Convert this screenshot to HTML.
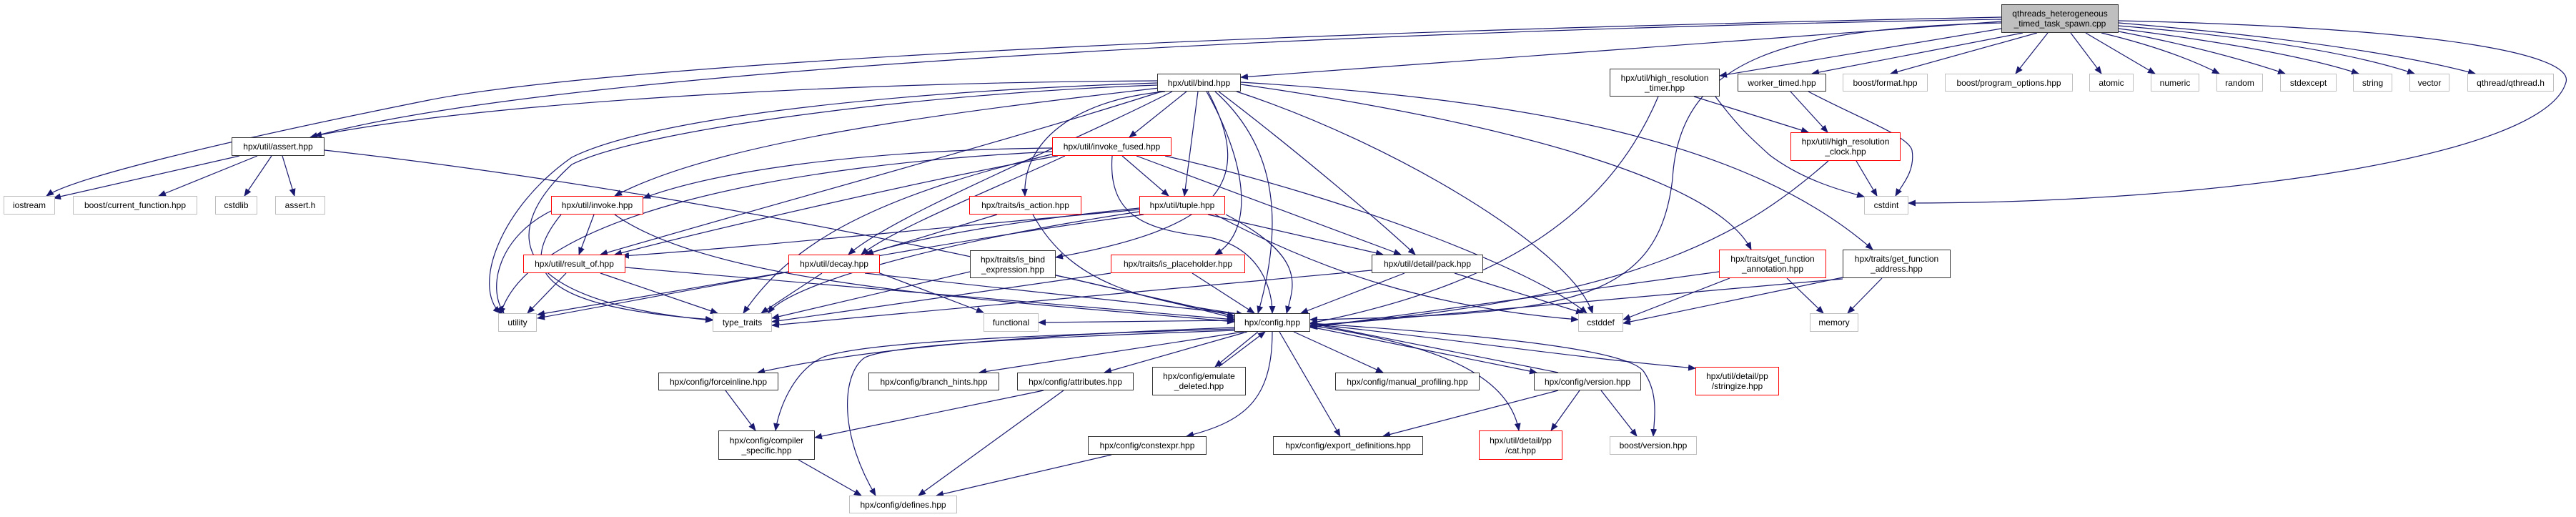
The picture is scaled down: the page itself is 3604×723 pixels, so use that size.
<!DOCTYPE html>
<html><head><meta charset="utf-8"><style>
body{margin:0;background:#fff;width:3604px;height:723px;overflow:hidden;position:relative;font-family:"Liberation Sans",sans-serif}
.n{position:absolute;box-sizing:border-box;border:1px solid #bfbfbf;background:#fff;font-size:12px;line-height:14px;color:#000;display:flex;align-items:center;justify-content:center;text-align:center;white-space:nowrap}
.b{border:1.5px solid #333}
.r{border:1.5px solid #ff0000}
.g{background:#bfbfbf;border:1.5px solid #333}
svg{position:absolute;left:0;top:0}
</style></head><body>
<svg width="3604" height="723" viewBox="0 0 3604 723">
<defs><marker id="a" markerUnits="userSpaceOnUse" markerWidth="11" markerHeight="9" refX="10" refY="4.5" orient="auto"><path d="M0,0 L11,4.5 L0,9 z" fill="#191970"/></marker></defs>
<g fill="none" stroke="#191970" stroke-width="1.2" marker-end="url(#a)">
<path d="M2850,46 L2645,103"/>
<path d="M2865,46 L2820,103"/>
<path d="M2897,46 L2940,103"/>
<path d="M2918,46 L3015,103"/>
<path d="M2940,46 Q3040,70 3105,103"/>
<path d="M2964,44 Q3100,70 3197,103"/>
<path d="M2964,40 Q3200,70 3300,103"/>
<path d="M2964,36 Q3250,60 3378,103"/>
<path d="M2964,32 Q3300,60 3463,103"/>
<path d="M2964,29 C3450,40 3600,80 3590,115 C3560,220 3100,284 2670,284"/>
<path d="M2830,46 L2535,103"/>
<path d="M2800,40 L2406,106"/>
<path d="M2800,30 L1736,108"/>
<path d="M2800,27 C2000,40 800,90 434,192"/>
<path d="M2800,24 C1500,50 800,100 600,140 C300,200 100,250 65,274"/>
<path d="M2800,32 C2500,40 2350,80 2340,250 C2320,420 2200,440 1833,447"/>
<path d="M1619,113 C1200,115 700,140 440,190"/>
<path d="M1619,116 C1200,130 900,170 800,220 C700,290 660,400 700,438"/>
<path d="M1619,119 C1300,130 900,180 800,230 C700,320 700,420 997,448"/>
<path d="M1622,123 C1300,160 1000,200 860,274"/>
<path d="M1625,128 C1400,200 1100,280 840,356"/>
<path d="M1640,128 C1500,200 1250,300 1187,356"/>
<path d="M1660,128 L1580,192"/>
<path d="M1630,128 C1500,140 1430,200 1434,274"/>
<path d="M1676,128 L1657,274"/>
<path d="M1688,128 C1740,220 1760,320 1700,356"/>
<path d="M1705,128 C1800,200 1920,300 1980,356"/>
<path d="M1700,128 C1780,200 1800,300 1760,438"/>
<path d="M1730,128 C1950,200 2200,350 2228,438"/>
<path d="M1736,118 C2100,170 2400,250 2450,349"/>
<path d="M1736,115 C2150,140 2450,200 2620,349"/>
<path d="M1690,128 C1760,260 1700,320 1477,360"/>
<path d="M335,218 L75,277"/>
<path d="M360,218 L222,274"/>
<path d="M380,218 L342,274"/>
<path d="M395,218 L412,274"/>
<path d="M454,210 C900,260 1400,360 1727,445"/>
<path d="M1472,207 C1200,210 1000,240 900,277"/>
<path d="M1480,218 C1300,250 1000,320 860,356"/>
<path d="M1490,218 C1400,260 1250,320 1205,356"/>
<path d="M1570,218 L1635,274"/>
<path d="M1590,218 L1960,356"/>
<path d="M1556,218 C1550,300 1600,320 1680,330 C1760,340 1780,400 1780,438"/>
<path d="M1630,218 C1900,280 2150,380 2220,438"/>
<path d="M1472,212 C1100,230 740,300 700,440"/>
<path d="M1475,215 C1200,280 1100,350 1040,438"/>
<path d="M831,300 L810,356"/>
<path d="M771,295 C700,330 680,400 705,438"/>
<path d="M785,300 C720,380 760,430 997,447"/>
<path d="M860,300 C1000,400 1400,420 1727,450"/>
<path d="M792,382 L738,438"/>
<path d="M840,382 L1004,438"/>
<path d="M875,374 L1727,447"/>
<path d="M1150,382 L1065,438"/>
<path d="M1103,380 L752,440"/>
<path d="M1210,382 L1740,440"/>
<path d="M1223,379 L1376,437"/>
<path d="M1395,300 L1210,356"/>
<path d="M1445,300 C1500,400 1600,420 1740,440"/>
<path d="M1594,291 C1400,310 1250,340 1212,356"/>
<path d="M1594,293 C1300,320 1000,350 870,358"/>
<path d="M1594,296 C1300,340 1100,400 1075,438"/>
<path d="M1600,300 C1300,340 1000,400 752,445"/>
<path d="M1690,300 L1935,356"/>
<path d="M1700,300 C1850,380 2000,430 2208,447"/>
<path d="M1715,300 C1830,360 1810,400 1800,438"/>
<path d="M1357,380 L1080,445"/>
<path d="M1477,385 L1727,442"/>
<path d="M1554,382 L1080,450"/>
<path d="M1668,382 L1755,438"/>
<path d="M1919,378 L1080,455"/>
<path d="M1965,382 L1820,438"/>
<path d="M2035,382 L2215,438"/>
<path d="M1727,448 L1453,451"/>
<path d="M1727,458 C1400,470 1200,490 1060,521"/>
<path d="M1727,460 C1400,470 1200,480 1150,500 C1110,520 1090,570 1085,602"/>
<path d="M1727,462 C1500,470 1250,480 1210,500 C1180,520 1170,600 1225,693"/>
<path d="M1740,464 L1370,521"/>
<path d="M1745,464 L1545,521"/>
<path d="M1760,464 L1700,513"/>
<path d="M1705,513 L1770,464"/>
<path d="M1780,464 C1780,560 1740,590 1660,610"/>
<path d="M1790,464 L1875,610"/>
<path d="M1810,464 L1935,521"/>
<path d="M1833,457 L2150,521"/>
<path d="M2180,521 L1833,452"/>
<path d="M1833,455 C2000,480 2110,520 2125,602"/>
<path d="M1833,453 C2000,470 2200,500 2372,515"/>
<path d="M1833,452 C2100,470 2280,490 2300,520 C2320,550 2315,580 2313,610"/>
<path d="M2210,546 L2170,602"/>
<path d="M2180,546 L1935,610"/>
<path d="M2240,546 L2290,610"/>
<path d="M1460,546 L1140,612"/>
<path d="M1488,546 L1285,693"/>
<path d="M1015,546 L1057,602"/>
<path d="M1117,643 L1205,693"/>
<path d="M1555,636 L1310,693"/>
<path d="M2370,135 L2530,185"/>
<path d="M2400,135 C2430,175 2446,190 2476,217 C2520,250 2570,265 2608,275"/>
<path d="M2320,135 C2250,300 2100,400 1833,452"/>
<path d="M2505,128 L2557,185"/>
<path d="M2530,128 C2600,165 2670,190 2675,210 C2680,240 2660,260 2652,274"/>
<path d="M2597,225 L2626,274"/>
<path d="M2558,225 C2450,320 2300,420 1833,455"/>
<path d="M2500,389 L2551,438"/>
<path d="M2420,389 L2271,447"/>
<path d="M2405,380 L1833,458"/>
<path d="M2633,389 L2585,438"/>
<path d="M2578,390 L1833,456"/>
<path d="M2578,388 L2271,452"/>
</g>
</svg>
<div class="n g" style="left:2800px;top:6px;width:164px;height:40px">qthreads_heterogeneous<br>_timed_task_spawn.cpp</div>
<div class="n b" style="left:324px;top:192px;width:130px;height:26px">hpx/util/assert.hpp</div>
<div class="n" style="left:5px;top:274px;width:72px;height:26px">iostream</div>
<div class="n" style="left:102px;top:274px;width:174px;height:26px">boost/current_function.hpp</div>
<div class="n" style="left:301px;top:274px;width:59px;height:26px">cstdlib</div>
<div class="n" style="left:385px;top:274px;width:70px;height:26px">assert.h</div>
<div class="n r" style="left:771px;top:274px;width:129px;height:26px">hpx/util/invoke.hpp</div>
<div class="n r" style="left:732px;top:356px;width:143px;height:26px">hpx/util/result_of.hpp</div>
<div class="n r" style="left:1103px;top:356px;width:128px;height:26px">hpx/util/decay.hpp</div>
<div class="n" style="left:697px;top:438px;width:54px;height:26px">utility</div>
<div class="n" style="left:997px;top:438px;width:83px;height:26px">type_traits</div>
<div class="n b" style="left:921px;top:521px;width:168px;height:25px">hpx/config/forceinline.hpp</div>
<div class="n b" style="left:1005px;top:602px;width:135px;height:41px">hpx/config/compiler<br>_specific.hpp</div>
<div class="n" style="left:1188px;top:693px;width:151px;height:25px">hpx/config/defines.hpp</div>
<div class="n b" style="left:1619px;top:103px;width:117px;height:25px">hpx/util/bind.hpp</div>
<div class="n b" style="left:2252px;top:96px;width:154px;height:39px">hpx/util/high_resolution<br>_timer.hpp</div>
<div class="n r" style="left:1472px;top:192px;width:167px;height:26px">hpx/util/invoke_fused.hpp</div>
<div class="n r" style="left:1356px;top:274px;width:157px;height:26px">hpx/traits/is_action.hpp</div>
<div class="n r" style="left:1594px;top:274px;width:120px;height:26px">hpx/util/tuple.hpp</div>
<div class="n b" style="left:1357px;top:350px;width:120px;height:39px">hpx/traits/is_bind<br>_expression.hpp</div>
<div class="n r" style="left:1554px;top:356px;width:188px;height:26px">hpx/traits/is_placeholder.hpp</div>
<div class="n b" style="left:1919px;top:356px;width:156px;height:26px">hpx/util/detail/pack.hpp</div>
<div class="n" style="left:1376px;top:438px;width:77px;height:26px">functional</div>
<div class="n b" style="left:1727px;top:438px;width:106px;height:26px">hpx/config.hpp</div>
<div class="n" style="left:2208px;top:438px;width:63px;height:26px">cstddef</div>
<div class="n b" style="left:1215px;top:521px;width:183px;height:25px">hpx/config/branch_hints.hpp</div>
<div class="n b" style="left:1423px;top:521px;width:163px;height:25px">hpx/config/attributes.hpp</div>
<div class="n b" style="left:1612px;top:513px;width:131px;height:40px">hpx/config/emulate<br>_deleted.hpp</div>
<div class="n b" style="left:1868px;top:521px;width:202px;height:25px">hpx/config/manual_profiling.hpp</div>
<div class="n b" style="left:2146px;top:521px;width:150px;height:25px">hpx/config/version.hpp</div>
<div class="n r" style="left:2372px;top:513px;width:117px;height:40px">hpx/util/detail/pp<br>/stringize.hpp</div>
<div class="n b" style="left:1522px;top:610px;width:166px;height:26px">hpx/config/constexpr.hpp</div>
<div class="n b" style="left:1781px;top:610px;width:210px;height:26px">hpx/config/export_definitions.hpp</div>
<div class="n r" style="left:2069px;top:602px;width:117px;height:41px">hpx/util/detail/pp<br>/cat.hpp</div>
<div class="n" style="left:2252px;top:610px;width:122px;height:26px">boost/version.hpp</div>
<div class="n b" style="left:2431px;top:103px;width:124px;height:25px">worker_timed.hpp</div>
<div class="n" style="left:2578px;top:103px;width:119px;height:25px">boost/format.hpp</div>
<div class="n" style="left:2721px;top:103px;width:179px;height:25px">boost/program_options.hpp</div>
<div class="n" style="left:2923px;top:103px;width:62px;height:25px">atomic</div>
<div class="n" style="left:3009px;top:103px;width:68px;height:25px">numeric</div>
<div class="n" style="left:3101px;top:103px;width:65px;height:25px">random</div>
<div class="n" style="left:3190px;top:103px;width:79px;height:25px">stdexcept</div>
<div class="n" style="left:3292px;top:103px;width:55px;height:25px">string</div>
<div class="n" style="left:3371px;top:103px;width:56px;height:25px">vector</div>
<div class="n" style="left:3452px;top:103px;width:121px;height:25px">qthread/qthread.h</div>
<div class="n r" style="left:2505px;top:185px;width:154px;height:40px">hpx/util/high_resolution<br>_clock.hpp</div>
<div class="n" style="left:2608px;top:274px;width:62px;height:26px">cstdint</div>
<div class="n r" style="left:2405px;top:349px;width:150px;height:40px">hpx/traits/get_function<br>_annotation.hpp</div>
<div class="n b" style="left:2578px;top:349px;width:151px;height:40px">hpx/traits/get_function<br>_address.hpp</div>
<div class="n" style="left:2532px;top:438px;width:68px;height:26px">memory</div>
</body></html>
